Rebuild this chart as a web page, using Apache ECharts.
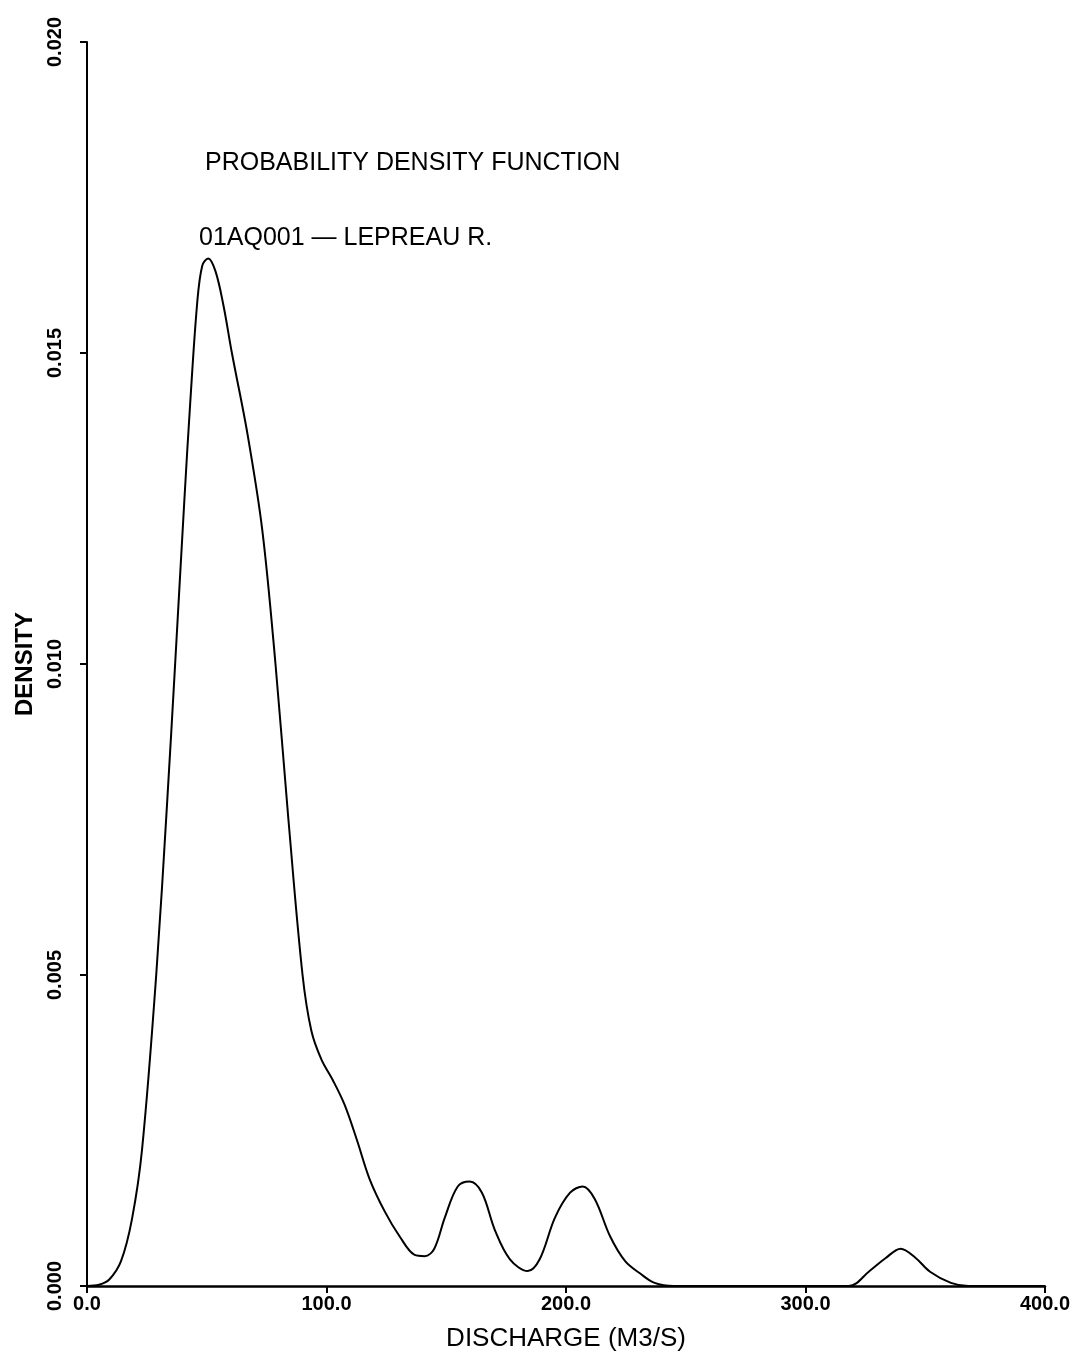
<!DOCTYPE html>
<html>
<head>
<meta charset="utf-8">
<script src="https://cdn.jsdelivr.net/npm/echarts@6/dist/echarts.min.js"></script>
<style>
html,body{margin:0;padding:0;background:#fff;}
#c{width:1086px;height:1360px;}
</style>
</head>
<body>
<div id="c"></div>
<script>
// Discharge (m3/s) and density values
const discharge = [0, 5, 9.2, 14.2, 18.8, 23, 28.9, 33.5, 36.8, 40.6, 43.1, 46, 48.1, 50.6, 53.6, 56.9, 60.5, 67.0, 73.2, 78.7, 84.1, 90, 93.7, 97.9, 102.5, 107.5, 112.6, 118, 124.3, 130.5, 136.8, 141, 145, 149.4, 154.8, 159.8, 164.9, 170.3, 176.6, 184, 189, 195.4, 201.7, 207, 212, 218.4, 224.7, 231, 237, 245, 280, 318, 327, 333.5, 339.7, 346, 352, 360.7, 368, 400];
const density = [0, 0.00002, 0.0001, 0.0004, 0.00108, 0.0022, 0.0050, 0.0078, 0.0100, 0.0126, 0.0142, 0.0158, 0.0164, 0.01652, 0.01632, 0.01578, 0.0150, 0.0137, 0.01215, 0.0100, 0.0075, 0.0050, 0.0041, 0.00364, 0.00332, 0.00292, 0.00236, 0.00172, 0.0012, 0.0008, 0.0005, 0.00048, 0.0006, 0.0011, 0.0016, 0.00168, 0.0015, 0.0009, 0.00043, 0.00024, 0.00043, 0.0011, 0.0015, 0.0016, 0.0014, 0.0008, 0.0004, 0.0002, 0.00005, 0, 0, 0, 0.00025, 0.00045, 0.0006, 0.00045, 0.00023, 0.00005, 0, 0];
const titleLine1 = 'PROBABILITY DENSITY FUNCTION';
const titleLine2 = '01AQ001 \u2014 LEPREAU R.';
const xName = 'DISCHARGE (M3/S)';
const yName = 'DENSITY';

const chart = echarts.init(document.getElementById('c'));
const font = '"Liberation Sans", Arial, sans-serif';
chart.setOption({
  backgroundColor: '#fff',
  animation: false,
  grid: {left: 87, right: 41, top: 42, bottom: 74},
  graphic: [
    {type: 'text', left: 205, top: 151, style: {text: titleLine1, font: '25px ' + font, fill: '#000'}},
    {type: 'text', left: 199, top: 226, style: {text: titleLine2, font: '25px ' + font, fill: '#000'}}
  ],
  xAxis: {
    type: 'value', min: 0, max: 400, interval: 100,
    name: xName, nameLocation: 'middle', nameGap: 40,
    nameTextStyle: {fontSize: 26, fontFamily: font, color: '#000'},
    axisLine: {show: true, lineStyle: {color: '#000', width: 2.5}},
    axisTick: {show: true, length: 7, lineStyle: {color: '#000', width: 2}},
    axisLabel: {formatter: v => v.toFixed(1), fontSize: 20, fontWeight: 'bold', fontFamily: font, color: '#000', margin: 8},
    splitLine: {show: false}
  },
  yAxis: {
    type: 'value', min: 0, max: 0.02, interval: 0.005,
    name: yName, nameLocation: 'middle', nameGap: 48,
    nameTextStyle: {fontSize: 24, fontWeight: 'bold', fontFamily: font, color: '#000'},
    axisLine: {show: true, lineStyle: {color: '#000', width: 2}},
    axisTick: {show: true, length: 7, lineStyle: {color: '#000', width: 2}},
    axisLabel: {rotate: 90, formatter: v => v.toFixed(3), fontSize: 20, fontWeight: 'bold', fontFamily: font, color: '#000', margin: 22},
    splitLine: {show: false}
  },
  series: [{
    type: 'line',
    data: discharge.map((x, i) => [x, density[i]]),
    smooth: 0.35,
    showSymbol: false,
    lineStyle: {color: '#000', width: 2}
  }]
});
</script>
</body>
</html>
